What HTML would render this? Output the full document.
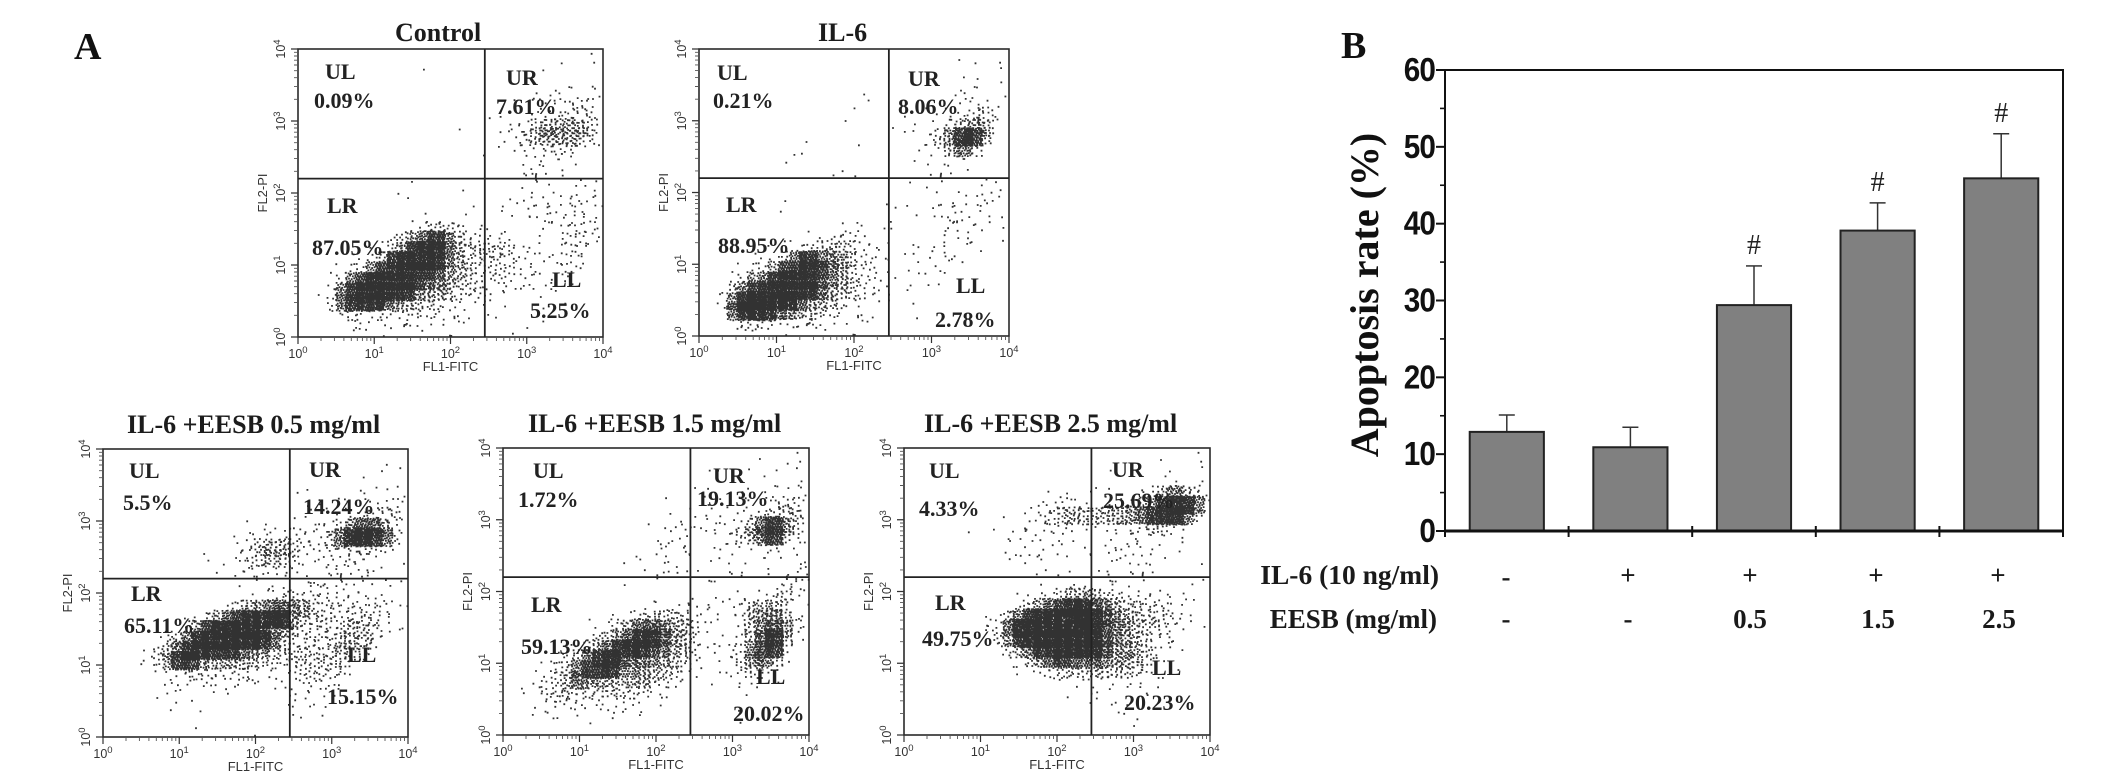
<!DOCTYPE html>
<html lang="en">
<head>
<meta charset="utf-8">
<title>Flow cytometry apoptosis panels and apoptosis rate bar chart</title>
<style>
html,body{margin:0;padding:0;background:#fff;}
svg{display:block;}
.title{font:bold 26px "Liberation Serif",serif;fill:#1c1c1c;}
.q{font:bold 22px "Liberation Serif",serif;fill:#222;}
.letter{font:bold 38px "Liberation Serif",serif;fill:#111;}
.axis-title{font:bold 40px "Liberation Serif",serif;fill:#111;}
.row{font:bold 27px "Liberation Serif",serif;fill:#1a1a1a;}
.tick-text{font:12.5px "Liberation Sans",sans-serif;fill:#333;}
.sup{font-size:9.5px;}
.flow-title{font:13px "Liberation Sans",sans-serif;fill:#333;}
.val{font:bold 33px "Liberation Sans",sans-serif;fill:#111;letter-spacing:-1px;}
.hash{font:28px "Liberation Serif",serif;fill:#222;}
</style>
</head>
<body>
<svg id="figure" xmlns="http://www.w3.org/2000/svg" width="2126" height="783" viewBox="0 0 2126 783">
<defs>
<filter id="soft" x="-2%" y="-2%" width="104%" height="104%"><feGaussianBlur stdDeviation="0.35"/></filter>
</defs>
<rect width="2126" height="783" fill="#fff"/>
<text class="letter" x="74" y="59">A</text>
<text class="letter" x="1341" y="58">B</text>

<g>
<g id="plot-control"></g>
<text class="title" x="395" y="41">Control</text>
<text class="q" x="325" y="79">UL</text>
<text class="q" x="314" y="108">0.09%</text>
<text class="q" x="506" y="85">UR</text>
<text class="q" x="496" y="114">7.61%</text>
<text class="q" x="327" y="213">LR</text>
<text class="q" x="312" y="255">87.05%</text>
<text class="q" x="552" y="287">LL</text>
<text class="q" x="530" y="318">5.25%</text>
</g>

<g>
<g id="plot-il6"></g>
<text class="title" x="818" y="41">IL-6</text>
<text class="q" x="717" y="80">UL</text>
<text class="q" x="713" y="108">0.21%</text>
<text class="q" x="908" y="86">UR</text>
<text class="q" x="898" y="114">8.06%</text>
<text class="q" x="726" y="212">LR</text>
<text class="q" x="718" y="253">88.95%</text>
<text class="q" x="956" y="293">LL</text>
<text class="q" x="935" y="327">2.78%</text>
</g>

<g>
<g id="plot-eesb05"></g>
<text class="title" x="127" y="433">IL-6 +EESB 0.5 mg/ml</text>
<text class="q" x="129" y="478">UL</text>
<text class="q" x="123" y="510">5.5%</text>
<text class="q" x="309" y="477">UR</text>
<text class="q" x="303" y="514">14.24%</text>
<text class="q" x="131" y="601">LR</text>
<text class="q" x="124" y="633">65.11%</text>
<text class="q" x="347" y="662">LL</text>
<text class="q" x="327" y="704">15.15%</text>
</g>

<g>
<g id="plot-eesb15"></g>
<text class="title" x="528" y="432">IL-6 +EESB 1.5 mg/ml</text>
<text class="q" x="533" y="478">UL</text>
<text class="q" x="518" y="507">1.72%</text>
<text class="q" x="713" y="483">UR</text>
<text class="q" x="697" y="506">19.13%</text>
<text class="q" x="531" y="612">LR</text>
<text class="q" x="521" y="654">59.13%</text>
<text class="q" x="756" y="684">LL</text>
<text class="q" x="733" y="721">20.02%</text>
</g>

<g>
<g id="plot-eesb25"></g>
<text class="title" x="924" y="432">IL-6 +EESB 2.5 mg/ml</text>
<text class="q" x="929" y="478">UL</text>
<text class="q" x="919" y="516">4.33%</text>
<text class="q" x="1112" y="477">UR</text>
<text class="q" x="1103" y="508">25.69%</text>
<text class="q" x="935" y="610">LR</text>
<text class="q" x="922" y="646">49.75%</text>
<text class="q" x="1152" y="675">LL</text>
<text class="q" x="1124" y="710">20.23%</text>
</g>

<g>
<g id="bars"></g>
<text class="axis-title" transform="translate(1378,295) rotate(-90)" text-anchor="middle">Apoptosis rate (%)</text>
<text class="row" x="1439" y="584" text-anchor="end" style="font-size:27.5px">IL-6 (10 ng/ml)</text>
<text class="row" x="1437" y="628" text-anchor="end">EESB (mg/ml)</text>
<text class="row" x="1506" y="586" text-anchor="middle">-</text>
<text class="row" x="1628" y="584" text-anchor="middle">+</text>
<text class="row" x="1750" y="584" text-anchor="middle">+</text>
<text class="row" x="1876" y="584" text-anchor="middle">+</text>
<text class="row" x="1998" y="584" text-anchor="middle">+</text>
<text class="row" x="1506" y="628" text-anchor="middle">-</text>
<text class="row" x="1628" y="628" text-anchor="middle">-</text>
<text class="row" x="1750" y="628" text-anchor="middle">0.5</text>
<text class="row" x="1878" y="628" text-anchor="middle">1.5</text>
<text class="row" x="1999" y="628" text-anchor="middle">2.5</text>
</g>
</svg>

<script>
// Bar chart data
const barCategories = ['control', 'il6', 'eesb-0.5', 'eesb-1.5', 'eesb-2.5'];
const barValues = [12.9, 10.9, 29.4, 39.1, 45.9];
const barErrorTops = [15.1, 13.5, 34.5, 42.7, 51.7];
const barMarkers = ['', '', '#', '#', '#'];
const barTickValues = [0, 10, 20, 30, 40, 50, 60];
const barMinorTicks = [5, 15, 25, 35, 45, 55];

// Flow plot axis data
const logTickExponents = [0, 1, 2, 3, 4];
const logMinorMultipliers = [2, 3, 4, 5, 6, 7, 8, 9];
const gateLogX = 2.45;
const gateLogY = 2.2;

// Events per density level
const densityCounts = [0, 1, 2, 4, 8, 14, 22, 34, 55, 110];

// Density levels: 28 rows top to bottom, 30 columns left to right
const controlGrid = [
'000000000000000000000000000011',
'000000000000000000000000001001',
'000000000001000000000000100000',
'000000000000000000000010101001',
'000000000000000000000111211102',
'000000000000000000000112323422',
'000000000000000000010122333421',
'000000000000000010100235565651',
'000000000000000000012345666542',
'000000000000000001010132343210',
'000000000000000000000112222100',
'000000000000000000000112111000',
'000000000010000000000112110011',
'000000000010000000000021201221',
'000000000010000100001112112221',
'000000000000000010010122112321',
'000000000000111111001011232211',
'000000000112355321110001123331',
'000000011357897543333011012331',
'000000112479998544444212013321',
'000011246999997644333312023200',
'000112489999986543333212133100',
'001248999999876543333222122000',
'001389999997665433222101120000',
'001489998765443322111000110000',
'000124333233332211010000100000',
'000012222222221110010010100000',
'000001111111101100000100000000'
];
const il6Grid = [
'000000000000000000000000000100',
'000000000000000000000000010001',
'000000000000000000000000001010',
'000000000000000000000000111010',
'000000000000000100000000212101',
'000000000000000200000000112210',
'000000000000000000010011234510',
'000000000000001000010122456610',
'000000000000000000011234799610',
'000000000100001000000123685100',
'000000000110000000000211111000',
'000000001000011000000111110000',
'000000000000001000010011110000',
'000000000000000000000010101231',
'000000000000000000100011112110',
'000000020000000000110111211210',
'000000000000001100100011122211',
'000000000000111101100002322100',
'000000000111233221001011211010',
'000000111234554321001011111000',
'000011235898765332111112111000',
'000112479999764321111111100000',
'001247899998764322101000000000',
'002589999998654422101110000000',
'003899999866543221000100000000',
'002899987654322111000000000000',
'001244333332221110000100000000',
'000111211111111100000000000000'
];
const eesb05Grid = [
'000000000000000000000000000000',
'000000000000000000000000000110',
'000000000000000000000000000010',
'000000000000000000010000110001',
'000000000000000000010101011011',
'000000000000000000001111122331',
'000000000000000000011112234431',
'000000000000011211211235788641',
'000000000000011222233358999841',
'000000000000023566532233444320',
'000000000010133565421233331001',
'000000000100123321110222232000',
'000000000001011111112222221011',
'000000000000000111113322221010',
'000000000000001123443322222211',
'000000000112356788765433333321',
'000000011247899999654433444210',
'000001124799999876543334554110',
'000002358999999984334345553100',
'000013689999987654433345542000',
'000124699756655443444444200000',
'000111234433343222234433100000',
'000001112222211111233321000000',
'000001211111101000222221000000',
'000000110100100000112110000000',
'000000000100000000110100000000',
'000000000000000000010000000000',
'000000000100010100000000000000'
];
const eesb15Grid = [
'000000000000000000000000000011',
'000000000000000000001000010011',
'000000000000000000000100100101',
'000000000000000000000011011011',
'000000000000000000111001122112',
'000000000000000010011112223442',
'000000000000001101112211234541',
'000000000000000112212223589751',
'000000000000000111211234689521',
'000000000000001122101111221221',
'000000000000111211101111111111',
'000000000000101211011111011112',
'000000000000101111010100010233',
'000000000000000000001100011333',
'000000000000000000101111113510',
'000000000000001112211123565311',
'000000000012345554321113567621',
'000000001234688765411112578731',
'000000012357899865411113689520',
'000001235689998765411113789310',
'000012368998777654301124785100',
'000123589997665543201113533000',
'001234677655665432101102111000',
'011234444454433210000011100000',
'001234323223321100000000000000',
'001111121121110000000001000000',
'000010001000010000000000000000',
'000000000000000000000001000000'
];
const eesb25Grid = [
'000000000000000000000010000010',
'000000000000000000001000100001',
'000000000000000000000000010010',
'000000000000000000000010011221',
'000000000000001111110012468641',
'000000000000123321211134799983',
'000000000011234565656678999841',
'000000000101123321112233543100',
'000000100112211110011222111000',
'000000000112111001112222100100',
'000000000011211101012222100100',
'000000000100111010012121110010',
'000000000000011000011111100011',
'000000000000000111121111011000',
'000000000001123566654322221100',
'000000000013578999876544332110',
'000000011358999999987654443210',
'000000112489999999987654432100',
'000000012479999999987654321000',
'000000001246899999986654321000',
'000000000113578988876654211000',
'000000000001234555555543111000',
'000000000000001111322211110000',
'000000000000000010111111100000',
'000000000000000000111111000000',
'000000000000000000001110000000',
'000000000000000000000010000000',
'000000000000000000000000000000'
];

const SVG_NS = 'http://www.w3.org/2000/svg';
const flowLayouts = [
  {id: 'plot-control', key: 'control', x: 298, y: 49, w: 305, h: 288, grid: controlGrid},
  {id: 'plot-il6', key: 'il6', x: 699, y: 49, w: 310, h: 287, grid: il6Grid},
  {id: 'plot-eesb05', key: 'eesb-05', x: 103, y: 449, w: 305, h: 288, grid: eesb05Grid},
  {id: 'plot-eesb15', key: 'eesb-15', x: 503, y: 448, w: 306, h: 287, grid: eesb15Grid},
  {id: 'plot-eesb25', key: 'eesb-25', x: 904, y: 448, w: 306, h: 287, grid: eesb25Grid}
];

function shape(tag, parent, cls) {
  const el = document.createElementNS(SVG_NS, tag);
  if (cls) el.setAttribute('class', cls);
  parent.appendChild(el);
  return el;
}

function logX(p, v) { return p.x + (v / 4) * p.w; }
function logY(p, v) { return p.y + p.h - (v / 4) * p.h; }

// Each bin's events are spread slightly past the bin edges so bins blend together.
function densityPath(p) {
  const rows = p.grid.length;
  const cols = 30;
  const cw = p.w / cols;
  const ch = p.h / rows;
  const spread = 1.8;
  let d = '';
  for (let r = 0; r < rows; r++) {
    for (let c = 0; c < cols; c++) {
      const level = parseInt(p.grid[r].charAt(c) || '0', 10);
      const n = densityCounts[level];
      const offX = r * r * 0.1371 + c * c * 0.2113 + r * c * 0.0831;
      const offY = r * r * 0.2957 + c * c * 0.1179 + r * c * 0.1693;
      for (let i = 0; i < n; i++) {
        const fx = (i * 0.7548776662 + offX) % 1;
        const fy = (i * 0.5698402910 + offY) % 1;
        const px = p.x + (c + 0.5 + (fx - 0.5) * spread) * cw;
        const py = p.y + (r + 0.5 + (fy - 0.5) * spread) * ch;
        if (px < p.x || px > p.x + p.w - 1 || py < p.y || py > p.y + p.h - 1) continue;
        d += 'M' + px.toFixed(1) + ' ' + py.toFixed(1) + 'h1.8v1.8h-1.8z';
      }
    }
  }
  return d;
}

function tickLabel(parent, exponent) {
  const t = shape('text', parent, 'tick-text');
  t.setAttribute('text-anchor', 'middle');
  t.appendChild(document.createTextNode('10'));
  const s = shape('tspan', t, 'sup');
  s.setAttribute('dy', '-5');
  s.textContent = String(exponent);
  return t;
}

flowLayouts.forEach(function (p) {
  const g = document.getElementById(p.id);

  const dots = shape('path', g);
  
  
  dots.setAttribute('d', densityPath(p));
  dots.setAttribute('fill', '#333');
  dots.setAttribute('filter', 'url(#soft)');

  const frame = shape('rect', g);
  
  
  frame.setAttribute('x', p.x);
  frame.setAttribute('y', p.y);
  frame.setAttribute('width', p.w);
  frame.setAttribute('height', p.h);
  frame.setAttribute('fill', 'none');
  frame.setAttribute('stroke', '#2a2a2a');
  frame.setAttribute('stroke-width', '1.6');

  const vGate = shape('line', g);
  
  
  vGate.setAttribute('x1', logX(p, gateLogX));
  vGate.setAttribute('x2', logX(p, gateLogX));
  vGate.setAttribute('y1', p.y);
  vGate.setAttribute('y2', p.y + p.h);
  vGate.setAttribute('stroke', '#222');
  vGate.setAttribute('stroke-width', '1.8');

  const hGate = shape('line', g);
  
  
  hGate.setAttribute('x1', p.x);
  hGate.setAttribute('x2', p.x + p.w);
  hGate.setAttribute('y1', logY(p, gateLogY));
  hGate.setAttribute('y2', logY(p, gateLogY));
  hGate.setAttribute('stroke', '#222');
  hGate.setAttribute('stroke-width', '1.8');

  let major = '';
  let minor = '';
  logTickExponents.forEach(function (e) {
    major += 'M' + logX(p, e) + ' ' + (p.y + p.h) + 'v7';
    major += 'M' + p.x + ' ' + logY(p, e) + 'h-7';
    if (e < 4) {
      logMinorMultipliers.forEach(function (m) {
        const v = e + Math.log10(m);
        minor += 'M' + logX(p, v).toFixed(1) + ' ' + (p.y + p.h) + 'v4';
        minor += 'M' + p.x + ' ' + logY(p, v).toFixed(1) + 'h-4';
      });
    }
  });
  const majorTicks = shape('path', g);
  
  
  majorTicks.setAttribute('d', major);
  majorTicks.setAttribute('stroke', '#333');
  majorTicks.setAttribute('stroke-width', '1.2');
  majorTicks.setAttribute('fill', 'none');

  const minorTicks = shape('path', g);
  
  
  minorTicks.setAttribute('d', minor);
  minorTicks.setAttribute('stroke', '#555');
  minorTicks.setAttribute('stroke-width', '0.9');
  minorTicks.setAttribute('fill', 'none');

  logTickExponents.forEach(function (e) {
    const xl = tickLabel(g, e);
    
    
    xl.setAttribute('x', logX(p, e));
    xl.setAttribute('y', p.y + p.h + 21);

    const yl = tickLabel(g, e);
    
    
    yl.setAttribute('transform', 'translate(' + (p.x - 13) + ',' + logY(p, e) + ') rotate(-90)');
  });

  const xTitle = shape('text', g, 'flow-title');
  
  
  xTitle.setAttribute('x', p.x + p.w / 2);
  xTitle.setAttribute('y', p.y + p.h + 34);
  xTitle.setAttribute('text-anchor', 'middle');
  xTitle.textContent = 'FL1-FITC';

  const yTitle = shape('text', g, 'flow-title');
  
  
  yTitle.setAttribute('transform', 'translate(' + (p.x - 31) + ',' + (p.y + p.h / 2) + ') rotate(-90)');
  yTitle.setAttribute('text-anchor', 'middle');
  yTitle.textContent = 'FL2-PI';
});

// Bar chart drawing
const barPlot = {left: 1445, right: 2063, top: 70, bottom: 531, max: 60};
function barY(v) { return barPlot.bottom - (v / barPlot.max) * (barPlot.bottom - barPlot.top); }
function bandWidth() { return (barPlot.right - barPlot.left) / barCategories.length; }
function barCenter(i) { return barPlot.left + bandWidth() * (i + 0.5); }

const barGroup = document.getElementById('bars');

barCategories.forEach(function (name, i) {
  const w = bandWidth() * 0.6;
  const cx = barCenter(i);

  const stem = shape('line', barGroup);
  
  
  stem.setAttribute('x1', cx);
  stem.setAttribute('x2', cx);
  stem.setAttribute('y1', barY(barValues[i]));
  stem.setAttribute('y2', barY(barErrorTops[i]));
  stem.setAttribute('stroke', '#333');
  stem.setAttribute('stroke-width', '1.5');

  const cap = shape('line', barGroup);
  
  
  cap.setAttribute('x1', cx - 8);
  cap.setAttribute('x2', cx + 8);
  cap.setAttribute('y1', barY(barErrorTops[i]));
  cap.setAttribute('y2', barY(barErrorTops[i]));
  cap.setAttribute('stroke', '#333');
  cap.setAttribute('stroke-width', '1.5');

  const bar = shape('rect', barGroup);
  
  
  bar.setAttribute('x', cx - w / 2);
  bar.setAttribute('y', barY(barValues[i]));
  bar.setAttribute('width', w);
  bar.setAttribute('height', barY(0) - barY(barValues[i]));
  bar.setAttribute('fill', '#808080');
  bar.setAttribute('stroke', '#222');
  bar.setAttribute('stroke-width', '2');

  if (barMarkers[i]) {
    const mark = shape('text', barGroup, 'hash');
    
    
    mark.setAttribute('x', cx);
    mark.setAttribute('y', barY(barErrorTops[i]) - 12);
    mark.setAttribute('text-anchor', 'middle');
    mark.textContent = barMarkers[i];
  }
});

const barFrame = shape('path', barGroup);


barFrame.setAttribute('d', 'M' + barPlot.left + ' ' + barPlot.bottom + 'V' + barPlot.top + 'H' + barPlot.right + 'V' + barPlot.bottom);
barFrame.setAttribute('fill', 'none');
barFrame.setAttribute('stroke', '#111');
barFrame.setAttribute('stroke-width', '2');

const baseline = shape('line', barGroup);


baseline.setAttribute('x1', barPlot.left);
baseline.setAttribute('x2', barPlot.right);
baseline.setAttribute('y1', barPlot.bottom);
baseline.setAttribute('y2', barPlot.bottom);
baseline.setAttribute('stroke', '#111');
baseline.setAttribute('stroke-width', '3');

for (let i = 0; i <= barCategories.length; i++) {
  const xt = shape('line', barGroup);
  
  
  const tx = barPlot.left + bandWidth() * i;
  xt.setAttribute('x1', tx);
  xt.setAttribute('x2', tx);
  xt.setAttribute('y1', barPlot.bottom - 5);
  xt.setAttribute('y2', barPlot.bottom + 6);
  xt.setAttribute('stroke', '#111');
  xt.setAttribute('stroke-width', '2');
}

barTickValues.forEach(function (v) {
  const yt = shape('line', barGroup);
  
  
  yt.setAttribute('x1', barPlot.left - 9);
  yt.setAttribute('x2', barPlot.left);
  yt.setAttribute('y1', barY(v));
  yt.setAttribute('y2', barY(v));
  yt.setAttribute('stroke', '#111');
  yt.setAttribute('stroke-width', '2');

  const lbl = shape('text', barGroup, 'val');
  
  
  lbl.setAttribute('transform', 'translate(' + (barPlot.left - 10) + ',' + (barY(v) + 11) + ') scale(0.9,1)');
  lbl.setAttribute('text-anchor', 'end');
  lbl.textContent = String(v);
});

barMinorTicks.forEach(function (v) {
  const mt = shape('line', barGroup);
  
  
  mt.setAttribute('x1', barPlot.left - 5);
  mt.setAttribute('x2', barPlot.left);
  mt.setAttribute('y1', barY(v));
  mt.setAttribute('y2', barY(v));
  mt.setAttribute('stroke', '#111');
  mt.setAttribute('stroke-width', '1.6');
});
</script>
</body>
</html>
